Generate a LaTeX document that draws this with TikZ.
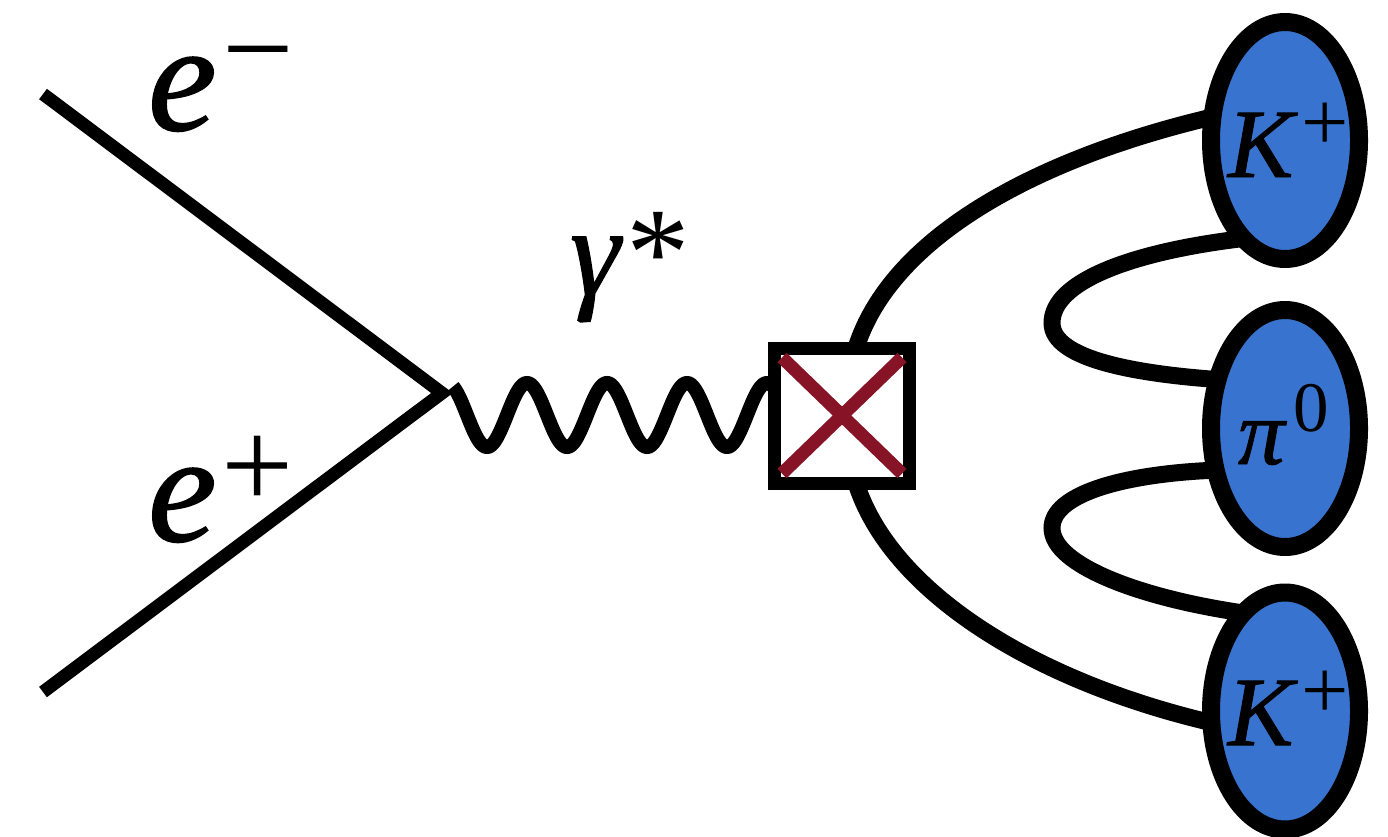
\documentclass[tikz,border=0pt]{standalone}
\usepackage{fontspec}
\setmainfont{Liberation Serif}[ItalicFeatures={FakeBold=1}]
\usetikzlibrary{shapes.geometric,calc}
\definecolor{kblue}{RGB}{56,116,207}
\definecolor{xred}{RGB}{134,20,38}
\tikzset{
  fermion/.style={line width=13pt, line join=miter},
  photon/.style={line width=14pt},
  hadronline/.style={line width=17pt},
  hadron/.style={ellipse, draw, line width=18pt, fill=kblue, minimum width=148pt, minimum height=237pt, inner sep=0pt, outer sep=0pt},
  vertexbox/.style={rectangle, draw, line width=13pt, fill=white, minimum size=135pt, inner sep=0pt, outer sep=0pt},
  crossline/.style={line width=13pt, draw=xred},
  lab/.style={inner sep=0pt, outer sep=0pt, anchor=base west}
}
\begin{document}
\begin{tikzpicture}[x=1pt,y=-1pt]
\useasboundingbox (0,0) rectangle (1388,836);
% electron lines
\coordinate (v) at (442,393);
\coordinate (em) at (43,94);
\coordinate (ep) at (43,692);
\draw[fermion] (em) -- (v) -- (ep);
% positions
\coordinate (boxc) at (842,415.5);
\coordinate (k1c) at (1285,140.5);
\coordinate (pic) at (1285,428.5);
\coordinate (k2c) at (1285,711);
% photon
\draw[photon] plot[domain=453:775, samples=300] (\x,{415-32*cos(4.5*(\x-527))});
% anchors of the hadron blobs and the vertex box
\path node[hadron, draw=none, fill=none] (K1) at (k1c) {}
      node[hadron, draw=none, fill=none] (P) at (pic) {}
      node[hadron, draw=none, fill=none] (K2) at (k2c) {}
      node[vertexbox, draw=none, fill=none] (B) at (boxc) {};
% quark lines
\draw[hadronline] ($(B.north)+(14,0)$) .. controls (890,240) and (1030,160) .. (K1.162);
\draw[hadronline] ($(B.south)+(14,0)$) .. controls (890,590) and (1030,680) .. (K2.189);
\draw[hadronline] (K1.247) .. controls (1130,252) and (1052,282) .. (1052,323)
                  .. controls (1052,360) and (1140,374) .. (P.144);
\draw[hadronline] (P.211) .. controls (1120,474) and (1052,495) .. (1052,528)
                  .. controls (1052,565) and (1140,598) .. (K2.113);
% box and cross
\node[vertexbox] (box) at (boxc) {};
\draw[crossline] ($(box.center)+(-60,-58)$) -- ($(box.center)+(60,58)$);
\draw[crossline] ($(box.center)+(60,-58)$) -- ($(box.center)+(-60,58)$);
% hadrons
\node[hadron] (k1) at (k1c) {};
\node[hadron] (pi) at (pic) {};
\node[hadron] (k2) at (k2c) {};
% labels
\node[lab] (lem) at (148,130) {\fontsize{155}{155}\selectfont\textit{e}\hspace{6pt}\raisebox{39pt}[0pt][0pt]{\fontsize{127}{127}\selectfont −}};
\node[lab] (lep) at (148,541) {\fontsize{155}{155}\selectfont\textit{e}\hspace{5pt}\raisebox{33pt}[0pt][0pt]{\fontsize{128}{128}\selectfont +}};
\node[lab] (lg) at (570,295) {\fontsize{127}{127}\selectfont\textit{γ}\hspace{4pt}*};
\node[lab] (lk1) at (1228,177) {\fontsize{98}{98}\selectfont\textit{K}\hspace{4pt}\raisebox{27pt}[0pt][0pt]{\fontsize{84}{84}\selectfont +}};
\node[lab] (lpi) at (1238,464) {\fontsize{93}{93}\selectfont\textit{π}\hspace{7pt}\raisebox{33pt}[0pt][0pt]{\fontsize{71}{71}\selectfont 0}};
\node[lab] (lk2) at (1228,745) {\fontsize{98}{98}\selectfont\textit{K}\hspace{4pt}\raisebox{27pt}[0pt][0pt]{\fontsize{84}{84}\selectfont +}};
\end{tikzpicture}
\end{document}
